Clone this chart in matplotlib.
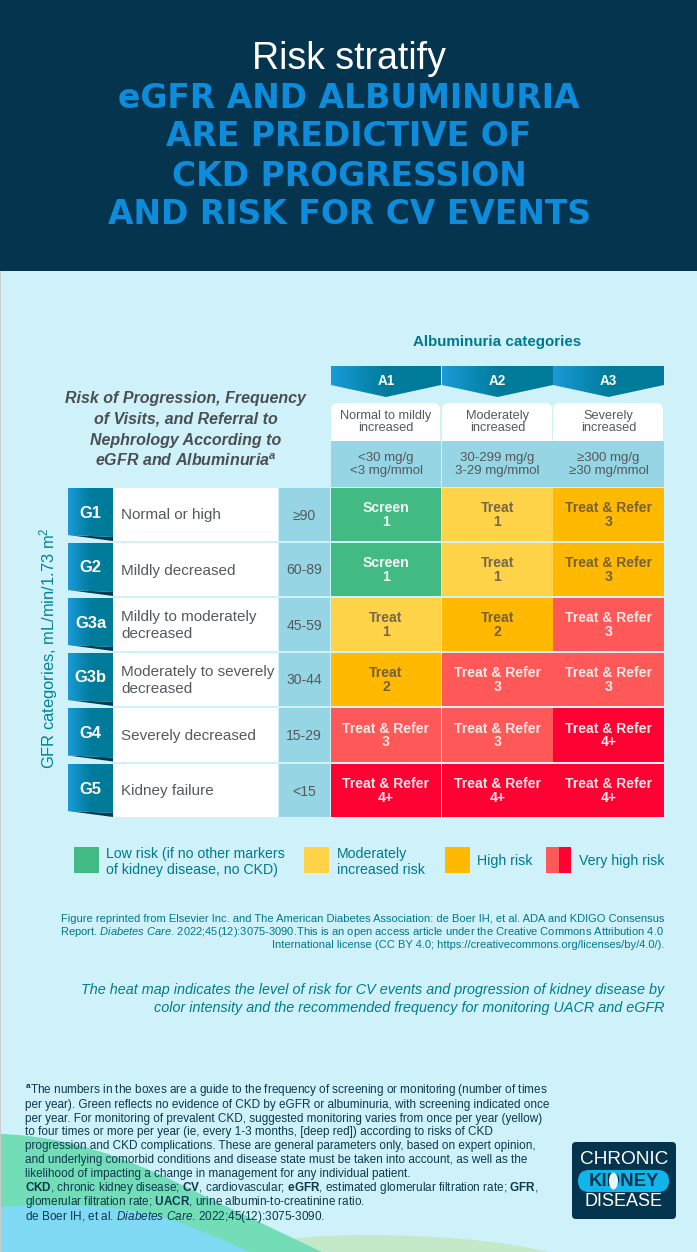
import numpy as np
import matplotlib
matplotlib.use('Agg')
import matplotlib.pyplot as plt
from matplotlib.patches import Rectangle, FancyBboxPatch, Polygon, PathPatch, Ellipse
from matplotlib.path import Path

plt.rcParams['font.family'] = ['Liberation Sans', 'DejaVu Sans']
plt.rcParams['mathtext.fontset'] = 'custom'
plt.rcParams['mathtext.rm'] = 'Liberation Sans'
plt.rcParams['mathtext.it'] = 'Liberation Sans:italic'
plt.rcParams['mathtext.bf'] = 'Liberation Sans:bold'
plt.rcParams['mathtext.bfit'] = 'Liberation Sans:italic:bold'

# table content
title_top = 'Risk stratify'
title_lines = ['eGFR AND ALBUMINURIA', 'ARE PREDICTIVE OF', 'CKD PROGRESSION', 'AND RISK FOR CV EVENTS']
side_title = ['Risk of Progression, Frequency', 'of Visits, and Referral to', 'Nephrology According to',
              r'eGFR and Albuminuria$^{\mathbfit{a}}$']

col_codes = ['A1', 'A2', 'A3']
col_names = ['Normal to mildly\nincreased', 'Moderately\nincreased', 'Severely\nincreased']
col_ranges = ['<30 mg/g\n<3 mg/mmol', '30-299 mg/g\n3-29 mg/mmol', '≥300 mg/g\n≥30 mg/mmol']

row_codes = ['G1', 'G2', 'G3a', 'G3b', 'G4', 'G5']
row_names = ['Normal or high', 'Mildly decreased', 'Mildly to moderately\ndecreased',
             'Moderately to severely\ndecreased', 'Severely decreased', 'Kidney failure']
row_ranges = ['≥90', '60-89', '45-59', '30-44', '15-29', '<15']

cell_action = [['Screen', 'Treat', 'Treat & Refer'],
               ['Screen', 'Treat', 'Treat & Refer'],
               ['Treat', 'Treat', 'Treat & Refer'],
               ['Treat', 'Treat & Refer', 'Treat & Refer'],
               ['Treat & Refer', 'Treat & Refer', 'Treat & Refer'],
               ['Treat & Refer', 'Treat & Refer', 'Treat & Refer']]
cell_freq = [['1', '1', '3'],
             ['1', '1', '3'],
             ['1', '2', '3'],
             ['2', '3', '3'],
             ['3', '3', '4+'],
             ['4+', '4+', '4+']]
# 0 low, 1 moderate, 2 high, 3 very high, 4 very high (deep)
cell_risk = [[0, 1, 2],
             [0, 1, 2],
             [1, 2, 3],
             [2, 3, 3],
             [3, 3, 4],
             [4, 4, 4]]

risk_colors = ['#41BA83', '#FFD348', '#FFB900', '#FF5858', '#FF0033']
risk_text = ['#F4FBF6', '#75684A', '#75603A', '#FBE9E4', '#FBE9E4']

reprint_lines = ['Figure reprinted from Elsevier Inc. and The American Diabetes Association: de Boer IH, et al. ADA and KDIGO Consensus',
                 r'Report. $\mathit{Diabetes\ Care}$. 2022;45(12):3075-3090.This is an open access article under the Creative Commons Attribution 4.0',
                 'International license (CC BY 4.0; https://creativecommons.org/licenses/by/4.0/).']
heat_lines = ['The heat map indicates the level of risk for CV events and progression of kidney disease by',
              'color intensity and the recommended frequency for monitoring UACR and eGFR']
foot_lines = [r'$^{\mathbf{a}}$The numbers in the boxes are a guide to the frequency of screening or monitoring (number of times',
              'per year). Green reflects no evidence of CKD by eGFR or albuminuria, with screening indicated once',
              'per year. For monitoring of prevalent CKD, suggested monitoring varies from once per year (yellow)',
              'to four times or more per year (ie, every 1-3 months, [deep red]) according to risks of CKD',
              'progression and CKD complications. These are general parameters only, based on expert opinion,',
              'and underlying comorbid conditions and disease state must be taken into account, as well as the',
              'likelihood of impacting a change in management for any individual patient.',
              r'$\mathbf{CKD}$, chronic kidney disease; $\mathbf{CV}$, cardiovascular; $\mathbf{eGFR}$, estimated glomerular filtration rate; $\mathbf{GFR}$,',
              r'glomerular filtration rate; $\mathbf{UACR}$, urine albumin-to-creatinine ratio.',
              r'de Boer IH, et al. $\mathit{Diabetes\ Care}$. 2022;45(12):3075-3090.']

BG = '#CFF1F9'
NAVY = '#05344F'
TEAL = '#00788F'
GREY = '#55595C'
PALE = '#96D5E3'

W, H = 697, 1252
fig = plt.figure(figsize=(W / 100, H / 100), dpi=100, facecolor=BG)
ax = fig.add_axes([0, 0, 1, 1])
ax.set_xlim(0, W)
ax.set_ylim(H, 0)
ax.axis('off')

grad = np.linspace(0, 1, 256).reshape(1, -1)
tab_cmap = matplotlib.colors.LinearSegmentedColormap.from_list('tab', ['#1A9BD8', '#007C9C', '#007A98'])


def px(size):
    # sizes below are in image pixels
    return size * 0.72


def put(x, y, s, size, color=GREY, ha='center', va='center', **kw):
    return ax.text(x, y, s, fontsize=px(size), color=color, ha=ha, va=va, **kw)


def grad_patch(patch, x0, x1, y0, y1):
    ax.add_patch(patch)
    im = ax.imshow(grad, extent=(x0, x1, y1, y0), cmap=tab_cmap, aspect='auto', zorder=2)
    im.set_clip_path(patch)


def bezier(points):
    codes = [Path.MOVETO] + [Path.CURVE4] * (len(points) - 1)
    return codes, points


# background shapes at the bottom
hill = [(235, 1252), (270, 1238), (320, 1235), (365, 1235), (430, 1235), (500, 1240), (548, 1252)]
codes, verts = bezier(hill)
ax.add_patch(PathPatch(Path(verts + [(235, 1252)], codes + [Path.CLOSEPOLY]),
                       fc='#C2EAC8', ec='none', zorder=0))
wave = [(0, 1134), (70, 1136), (130, 1160), (178, 1183), (225, 1206), (280, 1232), (322, 1252)]
codes, verts = bezier(wave)
ax.add_patch(PathPatch(Path(verts + [(0, 1252), (0, 1134)], codes + [Path.LINETO, Path.CLOSEPOLY]),
                       fc='#73DDB8', ec='none', zorder=0.1))
wave = [(0, 1207), (70, 1203), (130, 1205), (178, 1222), (205, 1232), (230, 1243), (250, 1252)]
codes, verts = bezier(wave)
ax.add_patch(PathPatch(Path(verts + [(0, 1252), (0, 1207)], codes + [Path.LINETO, Path.CLOSEPOLY]),
                       fc='#7FD9F3', ec='none', zorder=0.2))

# header band
ax.add_patch(Rectangle((0, 0), W, 271, fc=NAVY, ec='none'))
ax.add_patch(Rectangle((0, 271), 1, H - 271, fc='#C9CDCD', ec='none', zorder=3))
put(349, 59, title_top, 37.5, 'white')
for y, line in zip([99, 137, 176, 215], title_lines):
    put(349, y, line, 33, '#0D8CDB', fontweight='bold', family='DejaVu Sans')

# left title
for y, line in zip([397, 418, 439, 460], side_title):
    put(185.5, y + 1, line, 16, '#4A4F54', fontweight='bold', fontstyle='italic')

# column headers
put(497.5, 342, 'Albuminuria categories', 15.1, '#00788F', fontweight='bold')
col_x = [(331, 441), (442, 553), (553, 664)]
for i, (x0, x1) in enumerate(col_x):
    mid = (x0 + x1) / 2
    tab = Polygon([(x0, 366), (x1, 366), (x1, 385), (mid, 397), (x0, 385)], closed=True, fc='none', ec='none')
    grad_patch(tab, x0, x1, 366, 397)
    put(mid, 381, col_codes[i], 13.5, 'white', fontweight='bold', zorder=3)

    ax.add_patch(FancyBboxPatch((x0, 403), x1 - x0 - 1, 37.5, boxstyle='round,pad=0,rounding_size=7',
                                fc='white', ec='none', zorder=1))
    ax.add_patch(Rectangle((x0, 424), x1 - x0 - 1, 16.5, fc='white', ec='none', zorder=1))
    put(mid, 422, col_names[i], 12.7, GREY, linespacing=1.07, zorder=3)

    ax.add_patch(Rectangle((x0, 441), x1 - x0 - 0.5, 46, fc=PALE, ec='none', zorder=1))
    put(mid, 464.5, col_ranges[i], 13.2, GREY, linespacing=1.19, zorder=3)

# rows
row_top = [488, 543, 598, 653, 708, 764]
row_bot = [541, 596, 651, 706, 761.5, 817]
for r, code in enumerate(row_codes):
    y0, y1 = row_top[r], row_bot[r]
    mid = (y0 + y1) / 2
    ax.add_patch(Polygon([(68, y1 - 6), (113, y1 - 4), (113, y1)], closed=True, fc='#003A50', ec='none', zorder=1))
    tab = Polygon([(68, y0), (113, y0), (113, y1 - 4), (68, y1 - 6)], closed=True, fc='none', ec='none')
    grad_patch(tab, 68, 113, y0, y1)
    put(90.5, mid - 1.5, code, 16.5, 'white', fontweight='bold', zorder=3)

    ax.add_patch(Rectangle((113, y0), 165, y1 - y0, fc='white', ec='none', zorder=1))
    put(121, mid + 1, row_names[r], 15.3, GREY, ha='left', linespacing=1.23, zorder=3)

    ax.add_patch(Rectangle((279, y0), 50.5, y1 - y0, fc=PALE, ec='none', zorder=1))
    put(304, mid + 1, row_ranges[r], 14, GREY, zorder=3)

    for c, (x0, x1) in enumerate(col_x):
        risk = cell_risk[r][c]
        ax.add_patch(Rectangle((x0, y0), x1 - x0, y1 - y0, fc=risk_colors[risk], ec='none', zorder=1))
        put((x0 + x1) / 2, mid + 0.5, cell_action[r][c] + '\n' + cell_freq[r][c], 14, risk_text[risk],
            fontweight='bold', linespacing=0.95, zorder=3)

# gfr axis label
put(49, 648, 'GFR categories, mL/min/1.73 m$^{2}$', 16.5, '#00839A', rotation=90)

# legend
legend_y, legend_h = 847, 26
ax.add_patch(Rectangle((74, legend_y), 25, legend_h, fc=risk_colors[0], ec='none'))
put(106, 862, 'Low risk (if no other markers\nof kidney disease, no CKD)', 14.1, TEAL, ha='left', linespacing=1.1)
ax.add_patch(Rectangle((304, legend_y), 25, legend_h, fc=risk_colors[1], ec='none'))
put(337, 862, 'Moderately\nincreased risk', 14.1, TEAL, ha='left', linespacing=1.1)
ax.add_patch(Rectangle((445, legend_y), 25, legend_h, fc=risk_colors[2], ec='none'))
put(477, 861, 'High risk', 14.1, TEAL, ha='left')
ax.add_patch(Rectangle((546, legend_y), 12.5, legend_h, fc=risk_colors[3], ec='none'))
ax.add_patch(Rectangle((558.5, legend_y), 12.5, legend_h, fc=risk_colors[4], ec='none'))
put(579, 861, 'Very high risk', 14.1, TEAL, ha='left')

# notes
for y, line in zip([919, 932, 945], reprint_lines):
    put(664, y, line, 11.1, '#00788F', ha='right')
for y, line in zip([990, 1008], heat_lines):
    put(664, y, line, 14.4, '#007C8C', ha='right', fontstyle='italic')
for y, line in zip([1091, 1105, 1119, 1132, 1146, 1160, 1174, 1188, 1202, 1217], foot_lines):
    put(25, y, line, 11.75, '#0B3A4F', ha='left', zorder=4)

# logo
ax.add_patch(FancyBboxPatch((575, 1145), 98, 71, boxstyle='round,pad=3,rounding_size=4', fc=NAVY, ec='none', zorder=2))
put(624, 1159, 'CHRONIC', 19, 'white', zorder=3)
ax.add_patch(FancyBboxPatch((578, 1170), 91, 22, boxstyle='round,pad=0,rounding_size=11', fc='#12B5EA', ec='none', zorder=3))
put(624, 1181.5, 'KIDNEY', 18.6, NAVY, fontweight='bold', zorder=4)
ax.add_patch(Ellipse((613.5, 1181), 9, 17, fc='#E8F7FB', ec='none', zorder=5))
put(624, 1202, 'DISEASE', 18, 'white', zorder=3)

fig.savefig('out.png', dpi=100, facecolor=BG)
